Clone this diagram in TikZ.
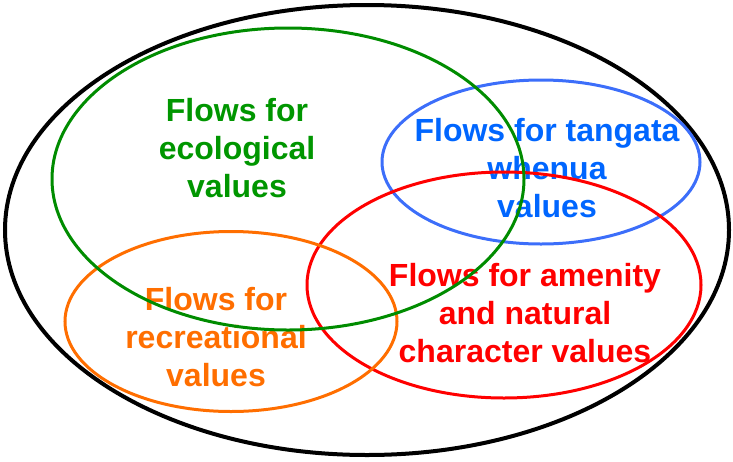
\documentclass[tikz,border=0pt]{standalone}
\usepackage{fontspec}
\setmainfont{Liberation Sans}
\definecolor{ecogreen}{RGB}{0,140,0}
\definecolor{ecotext}{RGB}{0,150,0}
\definecolor{tanblue}{RGB}{60,110,250}
\definecolor{tantext}{RGB}{0,102,255}
\definecolor{amred}{RGB}{255,0,0}
\definecolor{recorange}{RGB}{255,110,0}
\tikzset{
  ring/.style={line width=3pt},
  lbl/.style={font=\bfseries\fontsize{32}{38}\selectfont, align=center, anchor=base, inner sep=0pt}
}
\begin{document}
\begin{tikzpicture}[x=1pt,y=-1pt]
\useasboundingbox (0,0) rectangle (733,461);
% labels (anchor = baseline of last line)
\node[lbl, text=ecotext] (eco) at (237,197) {Flows for\\ecological\\values};
\node[lbl, text=tantext] (tan) at (547,217) {Flows for tangata\\whenua\\values};
\node[lbl, text=recorange] (rec) at (216,386) {Flows for\\recreational\\values};
\node[lbl, text=amred] (am) at (525,362) {Flows for amenity\\and natural\\character values};
% ellipses
\draw[ring, line width=4pt, black] (367,230) ellipse [x radius=362, y radius=225];
\draw[ring, tanblue] (541,162) ellipse [x radius=159, y radius=82];
\draw[ring, amred] (504,285) ellipse [x radius=197, y radius=113];
\draw[ring, recorange] (231,321.5) ellipse [x radius=166, y radius=90];
\draw[ring, ecogreen] (288,179) ellipse [x radius=236, y radius=151];
\end{tikzpicture}
\end{document}
